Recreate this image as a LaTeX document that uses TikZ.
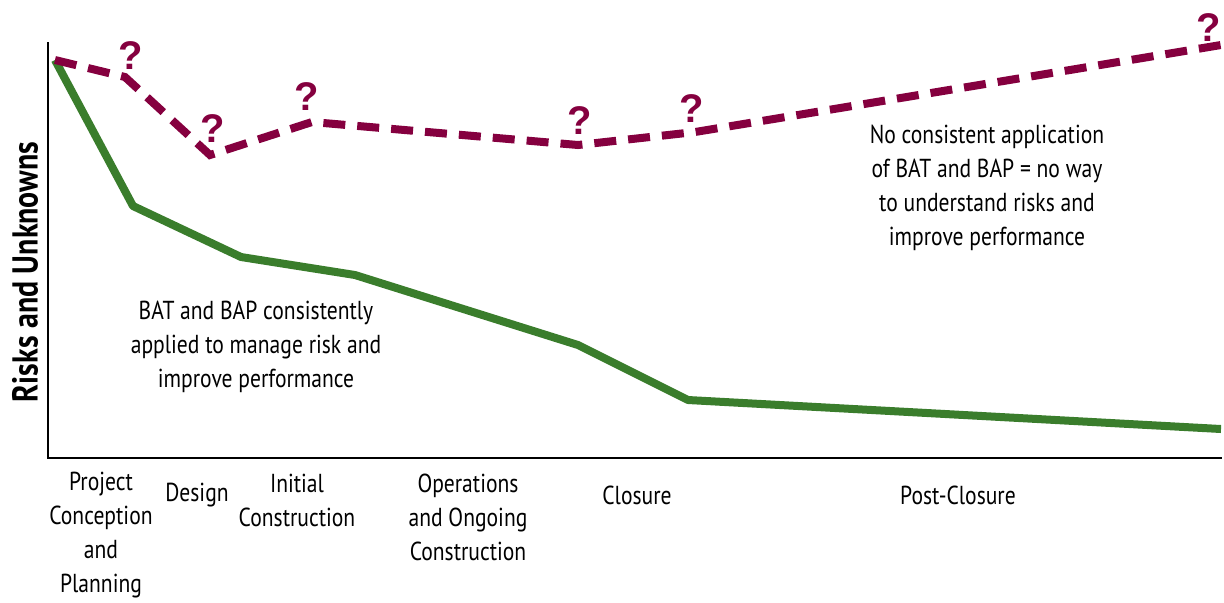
\documentclass[tikz,border=0pt]{standalone}
\usepackage{fontspec}
\setmainfont{PT Sans}[FakeStretch=0.83]
\newfontfamily\qfont{Liberation Sans}
\definecolor{riskred}{HTML}{85003F}
\definecolor{riskgreen}{HTML}{3A7D2C}
\begin{document}
\begin{tikzpicture}[x=0.5pt,y=-0.5pt,
  lbl/.style={align=center,font=\fontsize{13}{17}\selectfont,inner sep=0pt},
  qm/.style={text=riskred,font=\qfont\fontsize{20}{20}\selectfont\bfseries,inner sep=0pt},
  greenline/.style={riskgreen,line width=4pt,line join=round},
  redline/.style={riskred,line width=4pt,dash pattern=on 11pt off 6pt},
  axis/.style={black,line width=1pt}]
\useasboundingbox (0,0) rectangle (1224,602);
% axes
\coordinate (ytop) at (48,42);
\coordinate (orig) at (48,458);
\coordinate (xend) at (1222,458);
\draw[axis] (ytop) -- (orig) -- (xend);
% green line
\coordinate (g0) at (55,60);
\coordinate (g1) at (133,206);
\coordinate (g2) at (241,257);
\coordinate (g3) at (355,275);
\coordinate (g4) at (578,345);
\coordinate (g5) at (688,400);
\coordinate (g6) at (1221,429);
\draw[greenline] (g0) -- (g1) -- (g2) -- (g3) -- (g4) -- (g5) -- (g6);
% red dashed line
\coordinate (r0) at (55,60);
\coordinate (r1) at (125,77);
\coordinate (r2) at (210,155);
\coordinate (r3) at (312,122);
\coordinate (r4) at (578,145);
\coordinate (r5) at (695,132);
\coordinate (r6) at (1221,45);
\draw[redline] (r0) -- (r1) -- (r2) -- (r3) -- (r4) -- (r5) -- (r6);
% question marks
\node[qm] (q1) at (131,56) {?};
\node[qm] (q2) at (213,129) {?};
\node[qm] (q3) at (307,97) {?};
\node[qm] (q4) at (580,121) {?};
\node[qm] (q5) at (692,109) {?};
\node[qm] (q6) at (1209,28) {?};
% annotations
\node[lbl] (bat) at (256,347) {BAT and BAP consistently\\applied to manage risk and\\improve performance};
\node[lbl] (nobat) at (987,188) {No consistent application\\of BAT and BAP = no way\\to understand risks and\\improve performance};
% axis label
\node[lbl,font=\fontsize{18}{20}\selectfont\bfseries,rotate=90] (ylab) at (25,272) {Risks and Unknowns};
% phase labels
\node[lbl] (p1) at (101,535) {Project\\Conception\\and\\Planning};
\node[lbl] (p2) at (197,495) {Design};
\node[lbl] (p3) at (297,500) {Initial\\Construction};
\node[lbl] (p4) at (468,517) {Operations\\and Ongoing\\Construction};
\node[lbl] (p5) at (637,495) {Closure};
\node[lbl] (p6) at (958,495) {Post-Closure};
\end{tikzpicture}
\end{document}
